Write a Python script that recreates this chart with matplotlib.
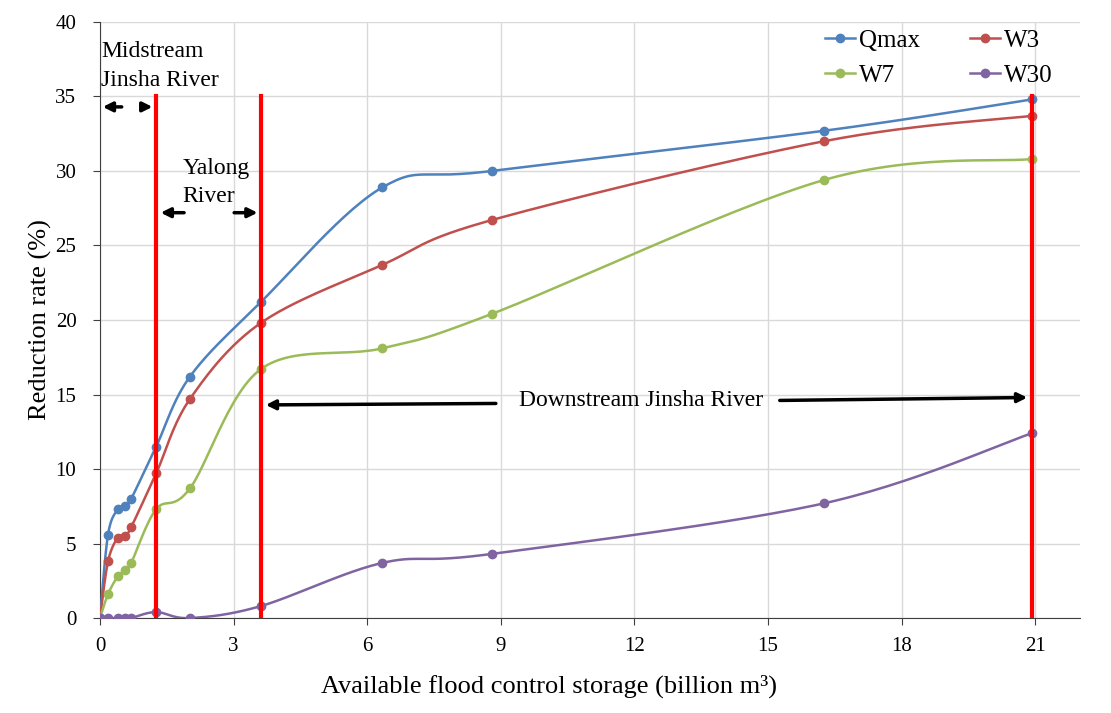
import numpy as np
import matplotlib
matplotlib.use('Agg')
import matplotlib.pyplot as plt

# data
storage = [0, 0.18, 0.4, 0.56, 0.7, 1.26, 2.02, 3.61, 6.34, 8.79, 16.26, 20.92]
qmax = [0, 5.6, 7.3, 7.5, 8.0, 11.5, 16.2, 21.2, 28.9, 30.0, 32.7, 34.8]
w3 = [0, 3.8, 5.4, 5.5, 6.1, 9.7, 14.7, 19.8, 23.7, 26.7, 32.0, 33.7]
w7 = [0, 1.6, 2.8, 3.2, 3.7, 7.3, 8.7, 16.7, 18.1, 20.4, 29.4, 30.8]
w30 = [0, 0, 0, 0, 0, 0.4, 0, 0.8, 3.7, 4.3, 7.7, 12.4]
boundaries = [1.26, 3.61, 20.92]

series = [('Qmax', qmax, '#4F81BD'), ('W3', w3, '#C0504D'),
          ('W7', w7, '#9BBB59'), ('W30', w30, '#8064A2')]


def smooth(x, y, n=30):
    # Catmull-Rom style smoothing like Excel's smoothed lines
    p = np.column_stack([x, y]).astype(float)
    p = np.vstack([p[0], p, p[-1]])
    out = []
    t = np.linspace(0, 1, n)[:, None]
    for i in range(1, len(p) - 2):
        p0, p1, p2, p3 = p[i - 1], p[i], p[i + 1], p[i + 2]
        c1 = p1 + (p2 - p0) / 6
        c2 = p2 - (p3 - p1) / 6
        seg = ((1 - t) ** 3) * p1 + 3 * ((1 - t) ** 2) * t * c1 + 3 * (1 - t) * t ** 2 * c2 + t ** 3 * p2
        out.append(seg)
    out = np.vstack(out)
    return out[:, 0], out[:, 1]


plt.rcParams['font.family'] = 'Liberation Serif'
fig = plt.figure(figsize=(11.11, 7.13), dpi=100)
ax = fig.add_axes([0.09, 0.1332, 0.882, 0.836])

handles = {}
for name, vals, col in series:
    sx, sy = smooth(storage, vals)
    ax.plot(sx, sy, color=col, lw=1.8, zorder=3)
    ax.plot(storage, vals, 'o', color=col, ms=6, zorder=4)
    h, = ax.plot([], [], '-o', color=col, lw=1.8, ms=6, label=name)
    handles[name] = h

for b in boundaries:
    ax.plot([b, b], [0, 35], color='#FF0000', lw=3, zorder=5)

ax.set_xlim(0, 22)
ax.set_ylim(0, 40)
ax.set_xticks(range(0, 22, 3))
ax.set_yticks(range(0, 41, 5))
ax.grid(True, color='#D9D9D9', lw=1)
ax.set_axisbelow(True)
for s in ['top', 'right']:
    ax.spines[s].set_visible(False)
ax.spines['left'].set_color('#404040')
ax.spines['bottom'].set_color('#404040')
ax.tick_params(labelsize=15, length=5, color='#404040')
ax.tick_params(axis='x', pad=9)
ax.tick_params(axis='y', pad=12)
ax.set_xlabel('Available flood control storage (billion m\u00b3)', fontsize=19)
ax.xaxis.set_label_coords(0.458, -0.095)
ax.set_ylabel('Reduction rate (%)', fontsize=19)
ax.yaxis.set_label_coords(-0.049, 0.5)

ax.legend(handles=[handles['Qmax'], handles['W7'], handles['W3'], handles['W30']],
          ncol=2, frameon=False, fontsize=18, loc='upper right',
          bbox_to_anchor=(0.995, 1.025), columnspacing=2.0, handlelength=1.2,
          handletextpad=0.15, labelspacing=0.5)

# region annotations
arw = dict(arrowstyle='-|>', color='black', lw=2.5, mutation_scale=14)
ax.text(0.02, 35.4, 'Midstream\nJinsha River', fontsize=17, va='bottom', ha='left', linespacing=1.45)
ax.annotate('', xy=(0.0, 34.3), xytext=(0.55, 34.3), arrowprops=arw)
ax.annotate('', xy=(1.24, 34.3), xytext=(0.88, 34.3), arrowprops=arw)

ax.text(1.85, 27.6, 'Yalong\nRiver', fontsize=17, va='bottom', ha='left', linespacing=1.45)
ax.annotate('', xy=(1.3, 27.2), xytext=(1.95, 27.2), arrowprops=arw)
ax.annotate('', xy=(3.6, 27.2), xytext=(2.95, 27.2), arrowprops=arw)

ax.text(9.4, 14.6, 'Downstream Jinsha River', fontsize=17, va='center', ha='left')
ax.annotate('', xy=(3.66, 14.3), xytext=(8.95, 14.4), arrowprops=arw)
ax.annotate('', xy=(20.88, 14.8), xytext=(15.2, 14.6), arrowprops=arw)

fig.savefig('out.png', dpi=100)
